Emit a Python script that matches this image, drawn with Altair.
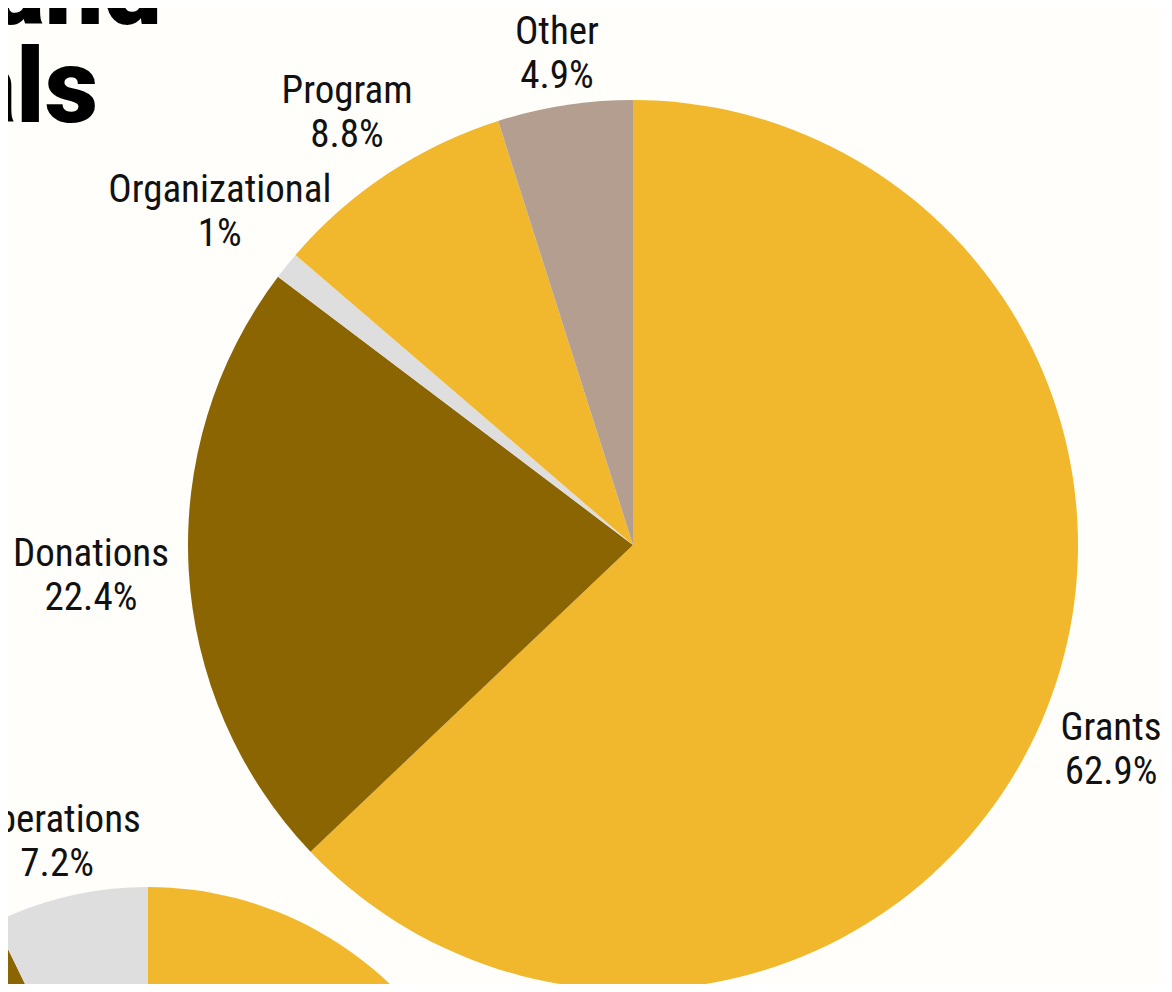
import sys
import json
import altair as alt
import pandas as pd

# Main pie: revenue sources (clockwise from 12 o'clock)
categories = ["Grants", "Donations", "Organizational", "Program", "Other"]
percents = [62.9, 22.4, 1, 8.8, 4.9]

# Second (cropped) pie at bottom-left
categories2 = ["Grants", "Donations", "Operations"]
percents2 = [65.0, 27.8, 7.2]
labelled2 = ["Operations"]

color_domain = ["Grants", "Donations", "Organizational", "Program", "Other", "Operations"]
color_range = ["#F1B82D", "#8C6503", "#DEDEDF", "#F1B82D", "#B39E8F", "#DEDEDF"]

title_lines = ["and", "als"]

BG = "#FFFEFA"
FONT = "Roboto Condensed, Liberation Sans Narrow, Roboto, sans-serif"
FS = 39
LH = 44


def build():
    df1 = pd.DataFrame({"category": categories, "pct": percents, "idx": list(range(len(categories)))})
    df2 = pd.DataFrame({"category": categories2, "pct": percents2, "idx": list(range(len(categories2)))})

    color = alt.Color("category:N", scale=alt.Scale(domain=color_domain, range=color_range), legend=None)

    def pie(df, cx, cy, r, show_labels):
        shown = json.dumps(show_labels)
        arcs = alt.Chart(df).mark_arc(outerRadius=r).encode(
            theta=alt.Theta("pct:Q", stack=True),
            order=alt.Order("idx:Q"),
            color=color,
            x=alt.value(cx),
            y=alt.value(cy),
        )
        # label placement: mid-angle of each slice, pushed further out at the sides
        txt = alt.Chart(df).transform_window(
            cum="sum(pct)", sort=[alt.SortField("idx", order="ascending")], frame=[None, 0]
        ).transform_joinaggregate(
            total="sum(pct)"
        ).transform_calculate(
            mid="(datum.cum - datum.pct / 2) / datum.total * 2 * PI",
        ).transform_calculate(
            rlab=f"{r} + 43 + 45 * abs(sin(datum.mid)) - 10 * sin(datum.mid)",
            label=f"indexof({shown}, datum.category) >= 0 ? datum.category + '\\n' + datum.pct + '%' : ''",
        ).mark_text(
            font=FONT, fontSize=FS, lineHeight=LH, dy=-LH / 2,
            lineBreak="\n", color="#111111", align="center", baseline="middle"
        ).encode(
            theta=alt.Theta("mid:Q", scale=None),
            radius=alt.Radius("rlab:Q", scale=None),
            text="label:N",
            x=alt.value(cx),
            y=alt.value(cy),
        )
        return [arcs, txt]

    main_layers = pie(df1, 625, 537, 445, categories)
    second_layers = pie(df2, 140, 1229, 350, labelled2)

    title_df = pd.DataFrame({"t": title_lines, "line": [0, 1]})
    title_style = dict(font="Roboto", fontSize=104, fontWeight=900, color="#000000",
                       align="right", baseline="alphabetic")
    title1 = alt.Chart(title_df).transform_filter("datum.line == 0").mark_text(**title_style).encode(
        text="t:N", x=alt.value(154), y=alt.value(16))
    title2 = alt.Chart(title_df).transform_filter("datum.line == 1").mark_text(**title_style).encode(
        text="t:N", x=alt.value(90), y=alt.value(114))

    chart = alt.layer(*second_layers, *main_layers, title1, title2).resolve_scale(
        theta="independent"
    ).properties(
        width=1156, height=976, background=BG, padding=0,
        autosize=alt.AutoSizeParams(type="none")
    ).configure_view(stroke=None, fill=BG)
    return chart


try:
    chart = build()
    chart.save("out.html", embed_options={"renderer": "svg", "actions": False})
except Exception as e:
    msg = str(e)
    sys.stderr.write("ERR: " + msg[:600].replace("\n", " | ") + "\n")
    raise SystemExit(1)
